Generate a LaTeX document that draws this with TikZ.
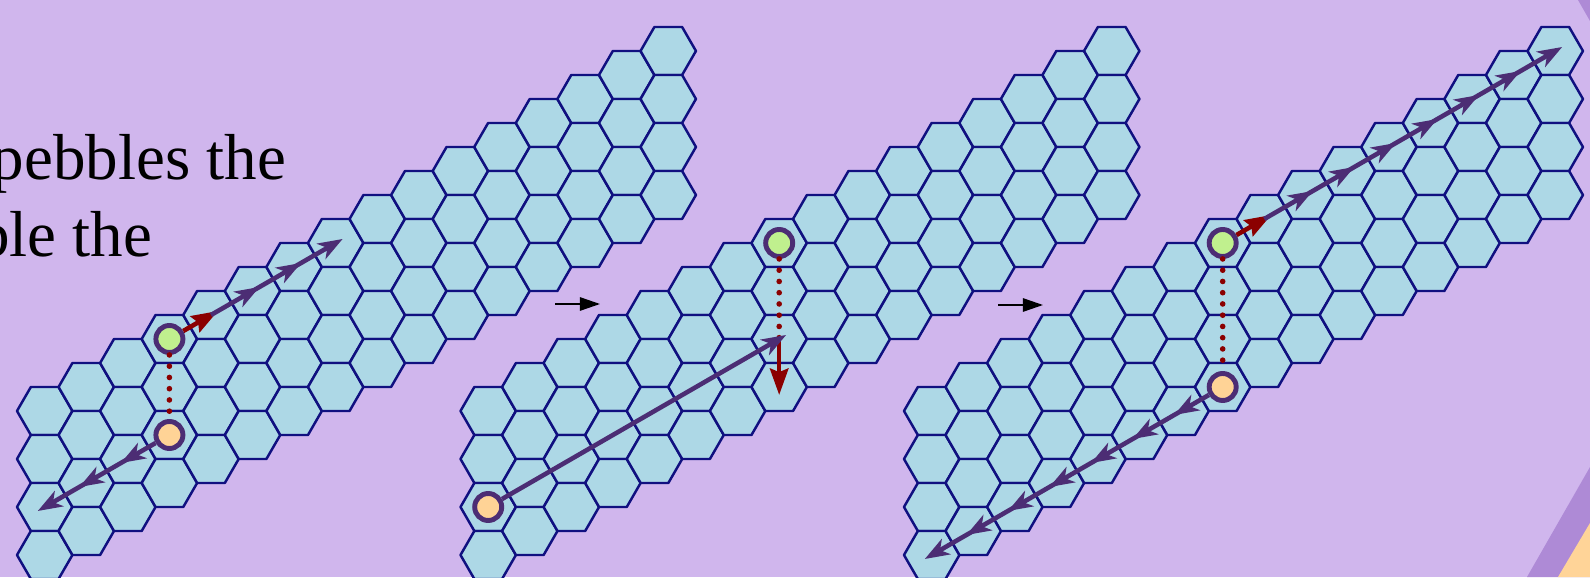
\documentclass[tikz,border=0pt]{standalone}
\usepackage{fontspec}
\setmainfont{Liberation Serif}
\usetikzlibrary{arrows.meta}

\definecolor{slidebg}{RGB}{208,182,237}
\definecolor{bandpurple}{RGB}{174,138,214}
\definecolor{cornerorange}{RGB}{255,212,152}
\definecolor{hexfill}{RGB}{173,216,230}
\definecolor{hexline}{RGB}{16,16,128}
\definecolor{pathpurple}{RGB}{76,45,116}
\definecolor{movered}{RGB}{139,0,0}
\definecolor{pebblegreen}{RGB}{192,240,142}
\definecolor{pebbleorange}{RGB}{255,211,150}

\newcommand{\hexside}{0.2771}

\begin{document}
\begin{tikzpicture}[
  hexcell/.style={draw=hexline,fill=hexfill,line width=0.7pt,line join=round},
  pebble/.style={circle,draw=pathpurple,line width=1.4pt,minimum size=0.27cm,inner sep=0pt},
  walk/.style={pathpurple,line width=1.3pt,-{Stealth[length=7pt,width=5pt,inset=2pt]},shorten >=-0.08cm},
  jump/.style={movered,line width=1.3pt,-{Stealth[length=7.5pt,width=5.2pt,inset=1pt]},shorten >=-0.08cm},
  tie/.style={movered,line width=1.6pt,dash pattern=on 0pt off 3.2pt,line cap=round},
  thenarrow/.style={black,line width=0.45pt,-{Triangle[length=5.7pt,width=3.8pt]}},
  slidetext/.style={anchor=base east,inner sep=0pt,font=\fontsize{18.5}{22}\selectfont}
]
\clip (0,0) rectangle (15.9,5.77);
\fill[slidebg] (0,0) rectangle (15.9,5.77);

% corner of the slide
\fill[bandpurple] (15.78,5.77) -- (15.9,5.77) -- (15.9,5.56) -- cycle;
\fill[bandpurple] (15.27,0) -- (15.9,1.10) -- (15.9,0) -- cycle;
\fill[cornerorange] (15.58,0) -- (15.9,0.54) -- (15.9,0) -- cycle;

\node[slidetext] (line1) at (2.87,3.97) {pebbles the};
\node[slidetext] (line2) at (1.53,3.20) {ble the};

% three boards
\foreach \g in {0,1,2}
  \foreach \c in {0,...,15}
    \foreach \r in {0,...,3} {
      \coordinate (h\g-\c-\r) at ({0.447+4.435*\g+0.4157*\c},{1.66-0.48*\r+0.24*\c});
      \draw[hexcell] (h\g-\c-\r) ++(0:\hexside) -- ++(120:\hexside) -- ++(180:\hexside)
        -- ++(240:\hexside) -- ++(300:\hexside) -- ++(0:\hexside) -- cycle;
    }

\node[pebble,fill=pebblegreen] (green1) at (h0-3-0) {};
\node[pebble,fill=pebbleorange] (orange1) at (h0-3-2) {};
\node[pebble,fill=pebblegreen] (green2) at (h1-7-0) {};
\node[pebble,fill=pebbleorange] (orange2) at (h1-0-2) {};
\node[pebble,fill=pebblegreen] (green3) at (h2-7-0) {};
\node[pebble,fill=pebbleorange] (orange3) at (h2-7-3) {};

% first board
\draw[tie] (green1) -- (orange1);
\draw[jump] (green1) -- (h0-4-0);
\foreach \c [remember=\c as \p (initially 4)] in {5,6,7}
  \draw[walk] (h0-\p-0) -- (h0-\c-0);
\draw[walk] (orange1) -- (h0-2-2);
\foreach \c [remember=\c as \p (initially 2)] in {1,0}
  \draw[walk] (h0-\p-2) -- (h0-\c-2);

% second board
\draw[tie] (green2) -- (h1-7-2);
\draw[jump] (h1-7-2) -- (h1-7-3);
\draw[walk] (orange2) -- (h1-7-2);

% third board
\draw[tie] (green3) -- (orange3);
\draw[jump] (green3) -- (h2-8-0);
\foreach \c [remember=\c as \p (initially 8)] in {9,...,15}
  \draw[walk] (h2-\p-0) -- (h2-\c-0);
\draw[walk] (orange3) -- (h2-6-3);
\foreach \c [remember=\c as \p (initially 6)] in {5,4,...,0}
  \draw[walk] (h2-\p-3) -- (h2-\c-3);

% arrows between the boards
\coordinate (then1a) at (5.55,2.73);
\coordinate (then1b) at (6.00,2.73);
\coordinate (then2a) at (9.98,2.72);
\coordinate (then2b) at (10.43,2.72);
\draw[thenarrow] (then1a) -- (then1b);
\draw[thenarrow] (then2a) -- (then2b);
\end{tikzpicture}
\end{document}
